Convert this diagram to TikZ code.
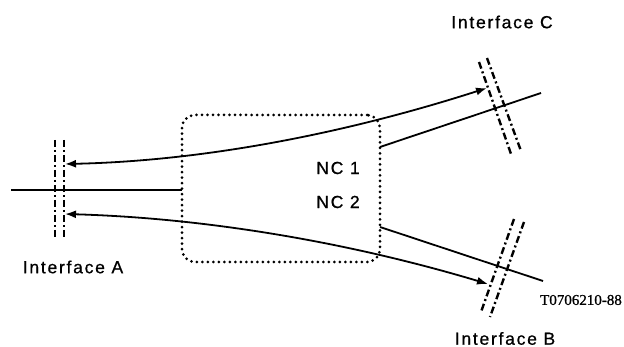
\documentclass[tikz,border=0pt]{standalone}
\usepackage{fontspec}
\setmainfont{Liberation Sans}[LetterSpace=10,FakeBold=0.8]
\newfontfamily\codefont{Liberation Serif}[FakeBold=1]
\usetikzlibrary{arrows.meta}
\begin{document}
\begin{tikzpicture}[x=1pt,y=-1pt,
  lbl/.style={font=\fontsize{17.5}{20}\selectfont, inner sep=0pt},
  code/.style={font=\codefont\fontsize{15}{17}\selectfont, inner sep=0pt},
  iface/.style={line width=2.4pt, dash pattern=on 7pt off 3pt on 2pt off 3pt},
  conn/.style={line width=1.8pt},
  tipB/.style={conn, {Latex[length=11pt,width=8pt]}-{Latex[length=11pt,width=8pt]}},
  ncbox/.style={draw, line width=3pt, line cap=round, dash pattern=on 0pt off 5.5pt,
    rounded corners=13pt, minimum width=198pt, minimum height=147pt, inner sep=0pt}]
\useasboundingbox (0,0) rectangle (624,347);

% network connection box
\node[ncbox] (box) at (281,188.5) {};
\node[lbl] (nc1) at (338,168) {NC 1};
\node[lbl] (nc2) at (338,202) {NC 2};

% interface A
\coordinate (a1t) at (55,140); \coordinate (a1b) at (55,239);
\coordinate (a2t) at (64,140); \coordinate (a2b) at (64,239);
\draw[iface] (a1t) -- (a1b);
\draw[iface] (a2t) -- (a2b);
\node[lbl] (ia) at (73,267) {Interface A};

% interface C
\coordinate (c1t) at (479,62); \coordinate (c1b) at (511,154);
\coordinate (c2t) at (487,58); \coordinate (c2b) at (521,151);
\draw[iface] (c1t) -- (c1b);
\draw[iface] (c2t) -- (c2b);
\node[lbl] (ic) at (502,22) {Interface C};

% interface B
\coordinate (b1t) at (514,219); \coordinate (b1b) at (481,312);
\coordinate (b2t) at (524,222); \coordinate (b2b) at (490,317);
\draw[iface] (b1t) -- (b1b);
\draw[iface] (b2t) -- (b2b);
\node[lbl] (ib) at (505,338.5) {Interface B};

\node[code] (ref) at (581,300) {T0706210-88};

% straight lines
\coordinate (aL) at (11,190);  \coordinate (aR) at (182,190);
\coordinate (cL) at (380,147); \coordinate (cR) at (541,93);
\coordinate (bL) at (380,227); \coordinate (bR) at (543,281);
\draw[conn] (aL) -- (aR);
\draw[conn] (cL) -- (cR);
\draw[conn] (bL) -- (bR);

% curved arrows
\coordinate (u0) at (65,164); \coordinate (u1) at (487,88);
\coordinate (l0) at (65,214); \coordinate (l1) at (488,284);
\draw[tipB] (u0) .. controls (205,161) and (347,133) .. (u1);
\draw[tipB] (l0) .. controls (205,218) and (348,242) .. (l1);
\end{tikzpicture}
\end{document}
